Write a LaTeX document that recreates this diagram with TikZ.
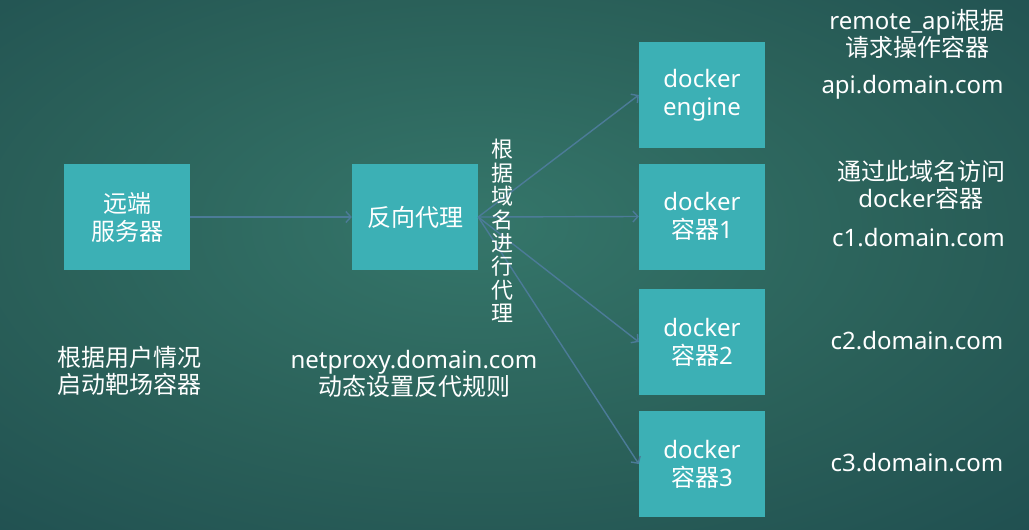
\documentclass[tikz,border=0pt]{standalone}
\usepackage{fontspec}
\setmainfont{Noto Sans}
\newfontfamily\cjk{Noto Sans CJK SC}
\usetikzlibrary{arrows.meta}
\definecolor{bgin}{HTML}{35766A}
\definecolor{bgmid}{HTML}{2A6059}
\definecolor{bgout}{HTML}{163F48}
\definecolor{boxc}{HTML}{3CB0B5}
\definecolor{arrc}{HTML}{4C7B98}
\pgfdeclareradialshading{bgshade}{\pgfpoint{-2bp}{4bp}}{color(0bp)=(bgin); color(22bp)=(bgmid); color(55bp)=(bgout); color(100bp)=(bgout)}
\tikzset{
  boxnode/.style={fill=boxc, minimum width=126pt, minimum height=106pt, inner sep=0pt, text=white, align=center, font=\fontsize{24}{28}\selectfont},
  lbl/.style={text=white, align=center, inner sep=0pt, font=\fontsize{24}{27.5}\selectfont},
  conn/.style={draw=arrc, line width=1.4pt, -{Straight Barb[length=5pt,width=11pt,line width=1.4pt]}}
}
\begin{document}
\begin{tikzpicture}[x={(1pt,0)}, y={(0,-1pt)}]
\shade[shading=bgshade] (0,0) rectangle (1029,530);
\useasboundingbox (0,0) rectangle (1029,530);
% boxes
\node[boxnode] (srv) at (127,217) {\cjk 远端\\\cjk 服务器};
\node[boxnode] (proxy) at (415,217) {\cjk 反向代理};
\node[boxnode] (eng) at (702,95) {docker\\engine};
\node[boxnode] (c1) at (702,216.5) {docker\\{\cjk 容器}1};
\node[boxnode] (c2) at (702,342) {docker\\{\cjk 容器}2};
\node[boxnode] (c3) at (702,464) {docker\\{\cjk 容器}3};
% connectors
\draw[conn] (srv.east) -- (proxy.west);
\draw[conn] (proxy.east) -- (eng.west);
\draw[conn] (proxy.east) -- (c1.west);
\draw[conn] (proxy.east) -- (c2.west);
\draw[conn] (proxy.east) -- (c3.west);
% vertical label
\node[text=white, align=center, inner sep=0pt, font=\cjk\fontsize{22}{23.4}\selectfont] (vlbl) at (502,231) {根\\据\\域\\名\\进\\行\\代\\理};
% right labels
\node[lbl] (l1) at (917,34) {remote\_api{\cjk 根据}\\{\cjk 请求操作容器}};
\node[lbl] (l2) at (912.5,87) {api.domain.com};
\node[lbl] (l3) at (921,185) {{\cjk 通过此域名访问}\\docker{\cjk 容器}};
\node[lbl] (l4) at (918.5,238) {c1.domain.com};
\node[lbl] (l5) at (917,341) {c2.domain.com};
\node[lbl] (l6) at (917,463) {c3.domain.com};
% bottom labels
\node[lbl, align=left, anchor=west, font=\cjk\fontsize{24}{27.5}\selectfont] (l7) at (57,371) {根据用户情况\\启动靶场容器};
\node[lbl] (l8) at (414,374) {netproxy.domain.com\\{\cjk 动态设置反代规则}};
\end{tikzpicture}
\end{document}
